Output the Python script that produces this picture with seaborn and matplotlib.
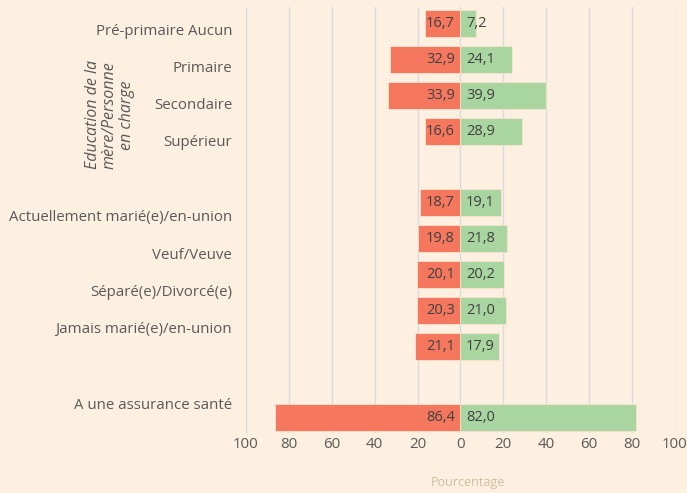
import matplotlib
matplotlib.use("Agg")
import matplotlib.pyplot as plt
import seaborn as sns
import pandas as pd
from matplotlib.ticker import FuncFormatter

# Données (une ligne par barre, None = ligne vide)
rows = list(range(12))
red_vals = [16.7, 32.9, 33.9, 16.6, None, 18.7, 19.8, 20.1, 20.3, 21.1, None, 86.4]
green_vals = [7.2, 24.1, 39.9, 28.9, None, 19.1, 21.8, 20.2, 21.0, 17.9, None, 82.0]

labels = ["Pré-primaire Aucun", "Primaire", "Secondaire", "Supérieur",
          "Actuellement marié(e)/en-union", "Veuf/Veuve", "Séparé(e)/Divorcé(e)",
          "Jamais marié(e)/en-union", "A une assurance santé"]
label_pos = [0.17, 1.2, 2.23, 3.27, 5.36, 6.4, 7.46, 8.49, 10.61]

BG = "#FDF0E0"
RED = "#F4775E"
GREEN = "#A9D5A0"
TXT = "#404040"

sns.set_theme(style="white")
plt.rcParams["font.family"] = ["Open Sans", "DejaVu Sans"]

df = pd.DataFrame({
    "row": [str(r) for r in rows] * 2,
    "val": [-v if v is not None else None for v in red_vals] + green_vals,
    "side": ["red"] * 12 + ["green"] * 12,
})

fig = plt.figure(figsize=(6.87, 4.93), dpi=100, facecolor=BG)
ax = fig.add_axes([0.358, 0.122, 0.6245, 0.864])
ax.set_facecolor(BG)

# grille verticale derrière les barres
for x in range(-100, 101, 20):
    ax.axvline(x, color="#D8DADF", lw=1, zorder=0)

sns.barplot(data=df, x="val", y="row", hue="side", dodge=False, orient="h",
            palette={"red": RED, "green": GREEN}, saturation=1, width=0.76,
            edgecolor="#FCE3D0", linewidth=0.6, legend=False, ax=ax, zorder=2)

# valeurs
for r, v in zip(rows, red_vals):
    if v is not None:
        ax.annotate(f"{v:.1f}".replace(".", ","), (0, r), xytext=(-4, 0),
                    textcoords="offset points", ha="right", va="center",
                    fontsize=10.5, color=TXT, zorder=3)
for r, v in zip(rows, green_vals):
    if v is not None:
        ax.annotate(f"{v:.1f}".replace(".", ","), (0, r), xytext=(4, 0),
                    textcoords="offset points", ha="left", va="center",
                    fontsize=10.5, color=TXT, zorder=3)

ax.set_xlim(-100, 100)
ax.set_ylim(11.42, -0.47)
ax.set_xticks(range(-100, 101, 20))
ax.xaxis.set_major_formatter(FuncFormatter(lambda x, p: f"{abs(int(round(x)))}"))
ax.set_yticks(label_pos)
ax.set_yticklabels(labels)
ax.tick_params(axis="both", length=0, labelsize=10.8, labelcolor="#595959")
ax.tick_params(axis="y", pad=10)
ax.tick_params(axis="x", pad=3)
for s in ax.spines.values():
    s.set_visible(False)
ax.set_xlabel("")
ax.set_ylabel("")

fig.text(0.681, 0.008, "Pourcentage", ha="center", va="bottom",
         fontsize=9, color="#CDBE9E")
fig.text(0.16, 0.767, "Education de la\nmère/Personne\nen charge", rotation=90,
         ha="center", va="center", fontsize=11.5, style="italic", color="#595959",
         linespacing=1.05)

fig.savefig("out.png", dpi=100, facecolor=BG)
plt.close(fig)
